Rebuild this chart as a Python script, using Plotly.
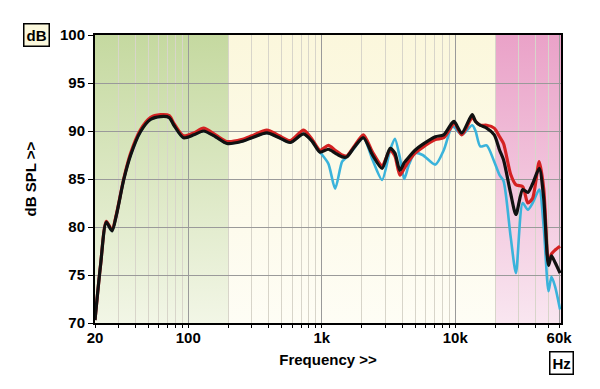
import base64
import math
import plotly.graph_objects as go

# ---------------- data ----------------
freq_hz = [20, 22, 24.3, 26.8, 29, 32.8, 37, 43.7, 52, 62, 72, 78, 92, 110, 130, 160, 195,
           250, 300, 388, 480, 580, 730, 850, 970, 1120, 1260, 1420, 1540, 1750, 2050, 2400,
           2830, 3250, 3530, 3850, 4150, 4500, 5000, 5700, 7100, 8200, 9400, 9800, 11200,
           13400, 14200, 15400, 17200, 19600, 21500, 23000, 26000, 28500, 32000, 35000,
           38000, 42600, 46000, 50000, 52600, 56000, 61000]

spl_black = [70.3, 76.0, 80.5, 79.6, 81.3, 84.9, 87.5, 89.9, 91.2, 91.5, 91.4, 90.6, 89.3, 89.6,
             90.0, 89.4, 88.7, 88.9, 89.3, 89.8, 89.3, 88.8, 89.7, 88.9, 87.8, 88.1, 87.7, 87.3,
             87.3, 88.3, 89.3, 87.5, 86.1, 88.2, 87.7, 85.9, 86.7, 87.3, 88.0, 88.6, 89.4, 89.6,
             90.8, 91.0, 89.8, 91.7, 91.0, 90.6, 90.3, 89.6, 88.0, 87.0, 83.5, 81.3, 83.9, 83.6,
             84.5, 86.1, 83.0, 76.0, 77.0, 76.3, 75.2]

spl_red = [70.3, 76.0, 80.6, 79.7, 81.4, 85.0, 87.7, 90.1, 91.4, 91.7, 91.6, 90.8, 89.5, 89.8,
           90.3, 89.6, 88.9, 89.1, 89.5, 90.1, 89.5, 89.0, 90.1, 89.1, 88.0, 88.5, 88.0, 87.5,
           87.4, 88.4, 89.6, 87.8, 86.4, 88.0, 87.4, 85.4, 86.1, 86.9, 87.7, 88.3, 89.1, 89.3,
           90.5, 90.9, 89.6, 91.4, 91.0, 90.6, 90.6, 90.3, 89.4, 88.7, 85.5, 84.4, 84.2, 82.5,
           83.0, 86.8, 84.0, 76.2, 77.2, 77.6, 78.0]

spl_cyan = [70.3, 76.0, 80.5, 79.6, 81.3, 84.9, 87.5, 89.9, 91.2, 91.5, 91.4, 90.6, 89.3, 89.6,
            90.0, 89.4, 88.7, 88.9, 89.3, 89.8, 89.3, 88.8, 89.7, 88.9, 87.8, 86.6, 84.0, 86.8,
            87.3, 88.2, 89.3, 87.0, 84.9, 88.0, 89.2, 87.2, 85.0, 86.5, 87.7, 87.5, 86.5, 88.0,
            90.4, 90.4, 89.6, 90.6, 90.0, 88.4, 88.5, 86.8, 85.4, 84.8, 79.0, 75.2, 82.5, 81.8,
            82.5, 83.9, 80.0, 73.3, 74.8, 73.8, 71.4]

x_tickvals = [20, 100, 1000, 10000, 60000]
x_ticktext = ["20", "100", "1k", "10k", "60k"]
y_tickvals = [70, 75, 80, 85, 90, 95, 100]

# background zones: (start Hz, end Hz) with top / bottom colours
zone_bounds = [(20, 200), (200, 20000), (20000, 62000)]
zone_top = ["#c5d9a0", "#fbf7dc", "#eaa2c8"]
zone_bottom = ["#f2f6e6", "#fefdf5", "#f9e6f0"]

F_MIN, F_MAX = 20, 62000
lmin, lmax = math.log10(F_MIN), math.log10(F_MAX)

minor_vals = []
for dec in [10, 100, 1000, 10000]:
    for m in range(2, 10):
        v = m * dec
        if F_MIN < v < F_MAX and v not in x_tickvals:
            minor_vals.append(v)


def grad_uri(top, bottom):
    svg = ('<svg xmlns="http://www.w3.org/2000/svg" width="10" height="100" '
           'preserveAspectRatio="none"><defs><linearGradient id="g" x1="0" y1="0" x2="0" y2="1">'
           f'<stop offset="0" stop-color="{top}"/><stop offset="1" stop-color="{bottom}"/>'
           '</linearGradient></defs><rect width="10" height="100" fill="url(#g)"/></svg>')
    return "data:image/svg+xml;base64," + base64.b64encode(svg.encode()).decode()


images = []
for (a, b), t, btm in zip(zone_bounds, zone_top, zone_bottom):
    fa = (math.log10(a) - lmin) / (lmax - lmin)
    fb = (math.log10(b) - lmin) / (lmax - lmin)
    images.append(dict(source=grad_uri(t, btm), xref="paper", yref="paper",
                       x=fa, y=1, sizex=fb - fa, sizey=1, xanchor="left", yanchor="top",
                       sizing="stretch", layer="below"))

fig = go.Figure()
fig.add_trace(go.Scatter(x=freq_hz, y=spl_cyan, mode="lines",
                         line=dict(color="#3ab3db", width=2.6, shape="spline", smoothing=0.7),
                         hoverinfo="skip", showlegend=False))
fig.add_trace(go.Scatter(x=freq_hz, y=spl_red, mode="lines",
                         line=dict(color="#d42222", width=3.2, shape="spline", smoothing=0.7),
                         hoverinfo="skip", showlegend=False))
fig.add_trace(go.Scatter(x=freq_hz, y=spl_black, mode="lines",
                         line=dict(color="#111111", width=3.2, shape="spline", smoothing=0.7),
                         hoverinfo="skip", showlegend=False))

font_fam = "Arial, Liberation Sans, sans-serif"

# page body has an 8px margin, so the figure is 8px smaller and margins shifted
fig.update_layout(
    width=592, height=381,
    margin=dict(l=87, r=39, t=27, b=66),
    paper_bgcolor="white", plot_bgcolor="white",
    images=images,
    font=dict(family=font_fam, color="black", size=15),
    xaxis=dict(
        type="log", range=[lmin, lmax],
        tickvals=x_tickvals, ticktext=x_ticktext,
        tickfont=dict(size=15, weight="bold"),
        ticks="outside", ticklen=3, tickcolor="black",
        ticklabelstandoff=-3,
        showgrid=True, gridcolor="#9a9a9a", gridwidth=1,
        minor=dict(tickvals=minor_vals, ticks="outside", ticklen=3, tickcolor="black",
                   showgrid=True, gridcolor="#d8d5ca", gridwidth=1),
        showline=True, linecolor="black", linewidth=2, mirror=True,
        title=dict(text="Frequency >>", font=dict(size=15, weight="bold"), standoff=9),
        zeroline=False,
    ),
    yaxis=dict(
        range=[70, 100], tickvals=y_tickvals,
        tickfont=dict(size=15, weight="bold"),
        ticks="outside", ticklen=5, tickcolor="black",
        showgrid=True, gridcolor="#9a9a9a", gridwidth=1,
        showline=True, linecolor="black", linewidth=2, mirror=True,
        title=dict(text="dB SPL >>", font=dict(size=15, weight="bold"), standoff=20),
        zeroline=False,
    ),
    annotations=[
        dict(text="<b>dB</b>", xref="paper", yref="paper", x=-0.125, y=1.0,
             xanchor="center", yanchor="middle", showarrow=False,
             bgcolor="#fbf8dc", bordercolor="black", borderwidth=1.5, borderpad=2,
             font=dict(size=15)),
        dict(text="<b>Hz</b>", xref="paper", yref="paper", x=1.0, y=-0.14,
             xanchor="center", yanchor="middle", showarrow=False,
             bgcolor="white", bordercolor="black", borderwidth=1.5, borderpad=2,
             font=dict(size=15)),
    ],
)

fig.write_html("out.html")
